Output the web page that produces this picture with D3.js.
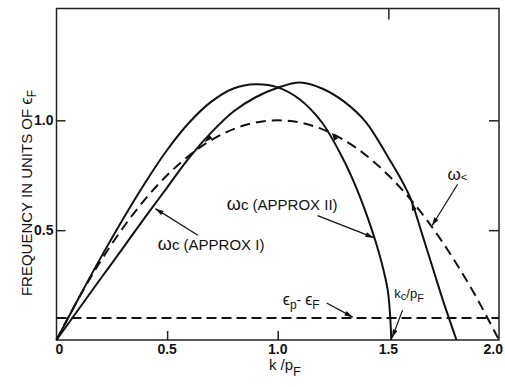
<!DOCTYPE html>
<html>
<head>
<meta charset="utf-8">
<script src="https://cdnjs.cloudflare.com/ajax/libs/d3/7.8.5/d3.min.js"></script>
<style>
body { margin: 0; background: #fff; }
text { font-family: "Liberation Sans", Arial, "DejaVu Sans", sans-serif; fill: #111; }
</style>
</head>
<body>
<script>
var width = 505, height = 387;
var margin = {top: 8.5, right: 6, bottom: 47, left: 56.5};

// omega_< (dashed), read every 0.1 in k/pF
var lessK = [0,0.1,0.2,0.3,0.4,0.5,0.6,0.7,0.8,0.9,1.0,1.1,1.2,1.3,1.4,1.5,1.6,1.7,1.8,1.9,2.0];
var lessV = [0,0.19,0.36,0.51,0.64,0.75,0.84,0.91,0.96,0.99,1.0,0.99,0.96,0.91,0.84,0.75,0.64,0.51,0.36,0.19,0];

// omega_c approx I (peaks later, ends ~1.81)
var approx1K = [0,0.1,0.2,0.3,0.4,0.5,0.6,0.7,0.8,0.9,1.0,1.1,1.2,1.3,1.4,1.5,1.55,1.6,1.65,1.7,1.75,1.808];
var approx1V = [0,0.14,0.28,0.418,0.558,0.694,0.83,0.945,1.04,1.105,1.148,1.172,1.145,1.085,0.99,0.83,0.745,0.645,0.49,0.33,0.17,0];

// omega_c approx II (peaks earlier, ends at kc/pF ~1.5)
var approx2K = [0,0.1,0.2,0.3,0.4,0.5,0.6,0.7,0.8,0.9,1.0,1.1,1.2,1.3,1.35,1.4,1.44,1.47,1.497,1.508,1.513];
var approx2V = [0,0.19,0.375,0.55,0.715,0.865,0.99,1.085,1.145,1.164,1.15,1.095,0.99,0.815,0.705,0.575,0.455,0.35,0.227,0.11,0];

// eps_p - eps_F level
var epsLevel = 0.1;

var xTicks = [0, 0.5, 1.0, 1.5, 2.0];
var xTickLabels = ["0", "0.5", "1.0", "1.5", "2.0"];
var yTicks = [0.5, 1.0];
var yTickLabels = ["0.5", "1.0"];

var x = d3.scaleLinear().domain([0, 2]).range([margin.left, width - margin.right]);
var y = d3.scaleLinear().domain([0, 1.509]).range([height - margin.bottom, margin.top]);

var svg = d3.select("body").append("svg")
  .attr("width", width)
  .attr("height", height);

svg.append("defs").append("marker")
  .attr("id", "arr")
  .attr("viewBox", "0 0 10 6")
  .attr("refX", 10).attr("refY", 3)
  .attr("markerWidth", 9).attr("markerHeight", 5)
  .attr("markerUnits", "userSpaceOnUse")
  .attr("orient", "auto")
  .append("path").attr("d", "M0,0L10,3L0,6Z").attr("fill", "#111");

// frame
svg.append("rect")
  .attr("x", x(0)).attr("y", y(1.509))
  .attr("width", x(2) - x(0)).attr("height", y(0) - y(1.509))
  .attr("fill", "none").attr("stroke", "#222").attr("stroke-width", 1.5);

// ticks: bottom upward, top at 1.5, left/right inward
var bottomAxis = d3.axisBottom(x).tickValues([0.5, 1.0]).tickSize(-9).tickFormat("");
svg.append("g").attr("transform", "translate(0," + y(0) + ")").call(bottomAxis)
  .call(g => g.select(".domain").remove());
var topAxis = d3.axisTop(x).tickValues([1.5]).tickSize(-11).tickFormat("");
svg.append("g").attr("transform", "translate(0," + y(1.509) + ")").call(topAxis)
  .call(g => g.select(".domain").remove());
var leftAxis = d3.axisLeft(y).tickValues(yTicks).tickSize(-9).tickFormat("");
svg.append("g").attr("transform", "translate(" + x(0) + ",0)").call(leftAxis)
  .call(g => g.select(".domain").remove());
var rightAxis = d3.axisRight(y).tickValues(yTicks).tickSize(-10).tickFormat("");
svg.append("g").attr("transform", "translate(" + x(2) + ",0)").call(rightAxis)
  .call(g => g.select(".domain").remove());
svg.selectAll(".tick line").attr("stroke", "#222").attr("stroke-width", 1.5);

// tick labels
svg.selectAll(".xlab").data(xTicks).enter().append("text")
  .attr("class", "xlab")
  .attr("x", (d, i) => i == 0 ? x(d) + 3 : (i == 4 ? x(d) + 4 : x(d)))
  .attr("y", y(0) + 14)
  .attr("text-anchor", (d, i) => i == 4 ? "end" : "middle")
  .style("font-size", "14px").style("font-weight", "bold")
  .text((d, i) => xTickLabels[i]);

svg.selectAll(".ylab").data(yTicks).enter().append("text")
  .attr("class", "ylab")
  .attr("x", x(0) - 3)
  .attr("y", d => y(d) + 5)
  .attr("text-anchor", "end")
  .style("font-size", "14px").style("font-weight", "bold")
  .text((d, i) => yTickLabels[i]);

// axis titles
var yt = svg.append("text")
  .attr("transform", "translate(32," + y(0.2) + ") rotate(-90)")
  .style("font-size", "15px");
yt.append("tspan").text("FREQUENCY IN UNITS OF  ");
yt.append("tspan").style("font-size", "17px").text("ϵ");
yt.append("tspan").attr("dy", 4).style("font-size", "12px").text("F");

var xt = svg.append("text")
  .attr("x", x(0.96)).attr("y", y(0) + 30)
  .style("font-size", "15px");
xt.append("tspan").text("k /p");
xt.append("tspan").attr("dy", 6).style("font-size", "13px").text("F");

// curves
function line(ks) {
  return d3.line()
    .x((d, i) => x(ks[i]))
    .y(d => y(d))
    .curve(d3.curveCatmullRom.alpha(0.5));
}

svg.append("path").datum(lessV)
  .attr("d", line(lessK))
  .attr("fill", "none").attr("stroke", "#111").attr("stroke-width", 2)
  .attr("stroke-dasharray", "10,6");

svg.append("line")
  .attr("x1", x(0)).attr("x2", x(2))
  .attr("y1", y(epsLevel)).attr("y2", y(epsLevel))
  .attr("stroke", "#111").attr("stroke-width", 2)
  .attr("stroke-dasharray", "10,5");

svg.append("path").datum(approx1V)
  .attr("d", line(approx1K))
  .attr("fill", "none").attr("stroke", "#111").attr("stroke-width", 2);

svg.append("path").datum(approx2V)
  .attr("d", line(approx2K))
  .attr("fill", "none").attr("stroke", "#111").attr("stroke-width", 2);

// annotations (arrow from k,v -> to k,v)
var arrows = [
  [0.639, 0.477, 0.447, 0.598],
  [1.18, 0.566, 1.434, 0.466],
  [1.813, 0.709, 1.697, 0.52],
  [1.221, 0.168, 1.339, 0.104],
  [1.564, 0.136, 1.517, 0.01]
];
svg.selectAll(".arrow").data(arrows).enter().append("line")
  .attr("class", "arrow")
  .attr("x1", d => x(d[0])).attr("y1", d => y(d[1]))
  .attr("x2", d => x(d[2])).attr("y2", d => y(d[3]))
  .attr("stroke", "#111").attr("stroke-width", 1.2)
  .attr("marker-end", "url(#arr)");

// small arrow tips sitting on the curves
var tips = [
  [0.70, 0.93, 0.67, 0.9],
  [1.27, 0.905, 1.244, 0.945],
  [1.615, 0.597, 1.605, 0.627]
];
svg.selectAll(".tip").data(tips).enter().append("line")
  .attr("class", "tip")
  .attr("x1", d => x(d[0])).attr("y1", d => y(d[1]))
  .attr("x2", d => x(d[2])).attr("y2", d => y(d[3]))
  .attr("stroke", "none")
  .attr("marker-end", "url(#arr)");

function omegaLabel(k, v, txt) {
  var t = svg.append("text").attr("x", x(k)).attr("y", y(v)).style("font-size", "15px");
  t.append("tspan").style("font-size", "18px").text("ω");
  t.append("tspan").text("c  " + txt);
}
omegaLabel(0.458, 0.409, "(APPROX I)");
omegaLabel(0.77, 0.59, "(APPROX II)");

var wl = svg.append("text").attr("x", x(1.767)).attr("y", y(0.73)).style("font-size", "17px");
wl.append("tspan").text("ω");
wl.append("tspan").attr("dy", 1).style("font-size", "11px").text("<");

var el = svg.append("text").attr("x", x(1.023)).attr("y", y(0.159)).style("font-size", "16px");
el.append("tspan").text("ϵ");
el.append("tspan").attr("dy", 4).style("font-size", "12px").text("p");
el.append("tspan").attr("dy", -4).style("font-size", "14px").text("- ");
el.append("tspan").text("ϵ");
el.append("tspan").attr("dy", 4).style("font-size", "12px").text("F");

var kl = svg.append("text").attr("x", x(1.527)).attr("y", y(0.19)).style("font-size", "13px");
kl.append("tspan").text("k");
kl.append("tspan").attr("dy", 2).style("font-size", "11px").text("c");
kl.append("tspan").attr("dy", -2).text("/p");
kl.append("tspan").attr("dy", 4).style("font-size", "11px").text("F");
</script>
</body>
</html>
